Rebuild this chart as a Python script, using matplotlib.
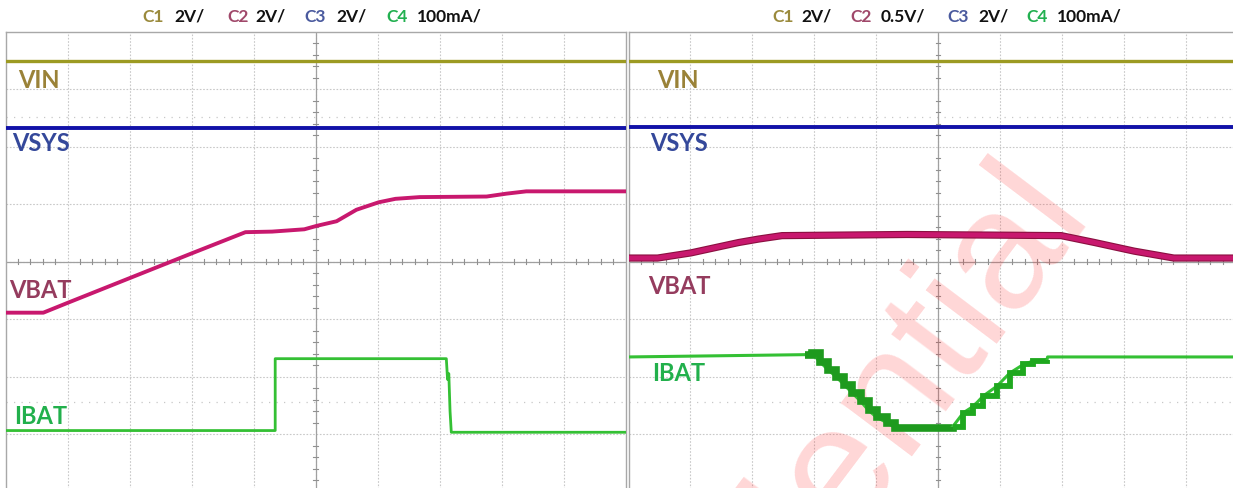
#!/usr/bin/env python3
"""
Oszilloskop-Aufnahmen: VIN, VSYS, VBAT, IBAT (zwei Messungen nebeneinander).
"""
import matplotlib
matplotlib.use('Agg')
import matplotlib.pyplot as plt

plt.rcParams['font.family'] = ['Lato', 'DejaVu Sans']

# Zeitachse und Werte in Skalenteilen (10 x 8 Raster, Mitte = 0)
# --- linke Aufnahme ---
L_VIN = 3.48
L_VSYS = 2.33
L_VBAT_T = [0, 0.61, 1.0, 2.0, 3.0, 3.87, 4.3, 4.82, 5.02, 5.34, 5.66, 6.02, 6.29, 6.68, 7.76, 8.08, 8.40, 10]
L_VBAT_V = [-0.89, -0.89, -0.72, -0.29, 0.14, 0.51, 0.52, 0.56, 0.62, 0.70, 0.90, 1.03, 1.09, 1.12, 1.13, 1.18, 1.22, 1.22]
L_IBAT_T = [0, 4.35, 4.35, 7.11, 7.13, 7.15, 7.17, 7.19, 10]
L_IBAT_V = [-2.94, -2.94, -1.69, -1.69, -2.05, -1.95, -2.6, -2.97, -2.97]

# --- rechte Aufnahme ---
R_VIN = 3.48
R_VSYS = 2.34
R_VBAT_T = [0, 0.47, 1.01, 1.78, 2.10, 2.48, 4.5, 6.99, 7.53, 8.17, 8.81, 10]
R_VBAT_V = [0.06, 0.06, 0.15, 0.33, 0.39, 0.45, 0.47, 0.45, 0.33, 0.18, 0.06, 0.06]
R_IBAT_T = [0, 2.85, 2.96, 3.09, 3.22, 3.35, 3.48, 3.61, 3.75, 3.88, 4.01, 4.17, 4.31,
            5.24, 5.41, 5.57, 5.73, 5.95, 6.16, 6.38, 6.54, 6.76, 6.77, 10]
R_IBAT_V = [-1.66, -1.62, -1.59, -1.74, -1.88, -2.00, -2.14, -2.28, -2.43, -2.59, -2.71, -2.80, -2.89,
            -2.87, -2.63, -2.52, -2.34, -2.17, -1.94, -1.79, -1.73, -1.72, -1.66, -1.66]

L_HEADER = [('C1', '2V/'), ('C2', '2V/'), ('C3', '2V/'), ('C4', '100mA/')]
R_HEADER = [('C1', '2V/'), ('C2', '0.5V/'), ('C3', '2V/'), ('C4', '100mA/')]
L_HEADER_X = [142, 174, 227, 255, 304, 336, 386, 417]
R_HEADER_X = [772, 801, 850, 881, 947, 978, 1026, 1057]

CH_COLORS = ['#9a8a3c', '#a0486a', '#4a5a9e', '#22b050']
LABEL_COLORS = {'VIN': '#9a8238', 'VSYS': '#34489a', 'VBAT': '#953c5e', 'IBAT': '#22b04c'}
C_VIN = '#9c9a22'
C_VSYS = '#1212a8'
C_VBAT = '#c8186e'
C_IBAT = '#34c034'

W, H = 1233, 489
fig = plt.figure(figsize=(W / 100, H / 100), dpi=100)


def setup_scope_axes(left_px, width_px):
    ax = fig.add_axes([left_px / W, 1 - 492.5 / H, width_px / W, 460 / H])
    ax.set_xlim(0, 10)
    ax.set_ylim(-4, 4)
    ax.set_xticks([])
    ax.set_yticks([])
    for s in ax.spines.values():
        s.set_color('#a8a8a8')
        s.set_linewidth(1.0)
    # Raster
    for i in range(1, 10):
        ax.axvline(i, color='#c8c8c8', lw=0.8, ls=(0, (1.5, 1.5)), zorder=0)
    for j in range(-3, 4):
        ax.axhline(j, color='#c8c8c8', lw=0.8, ls=(0, (1.5, 1.5)), zorder=0)
    # Mittellinien mit Teilstrichen
    ax.axvline(5, color='#a0a0a0', lw=0.9, zorder=0.5)
    ax.axhline(0, color='#a0a0a0', lw=0.9, zorder=0.5)
    for k in range(1, 50):
        t = k * 0.2
        if k % 5:
            ax.plot([t, t], [-0.05, 0.05], color='#909090', lw=0.8, zorder=0.5)
    for k in range(-19, 20):
        v = k * 0.2
        if k % 5:
            ax.plot([4.96, 5.04], [v, v], color='#909090', lw=0.8, zorder=0.5)
    # Cursor-Punktreihen
    for yy in (2.52, -2.45):
        ax.axhline(yy, color='#c8c8c8', lw=0.9, ls=(0, (1, 5)), zorder=0)
    return ax


def add_labels(ax, pos):
    for name, (x, y) in pos.items():
        ax.text(x, y, name, color=LABEL_COLORS[name], fontsize=17, fontweight='bold',
                ha='left', va='center', zorder=5)


def add_header(tokens, xs):
    k = 0
    for i, (ch, val) in enumerate(tokens):
        fig.text(xs[k] / W, 1 - 17 / H, ch, color=CH_COLORS[i], fontsize=12.5,
                 fontweight='bold', ha='left', va='center')
        fig.text(xs[k + 1] / W, 1 - 17 / H, val, color='#111111', fontsize=12.5,
                 fontweight='bold', ha='left', va='center')
        k += 2


# linke Aufnahme
axl = setup_scope_axes(5.5, 620)
axl.axhline(L_VIN, color=C_VIN, lw=2.4, zorder=3)
axl.axhline(L_VSYS, color=C_VSYS, lw=2.8, zorder=3)
axl.plot(L_VBAT_T, L_VBAT_V, color=C_VBAT, lw=2.8, zorder=3)
axl.plot(L_IBAT_T, L_IBAT_V, color=C_IBAT, lw=2.0, zorder=3)
add_labels(axl, {'VIN': (0.2, 3.17), 'VSYS': (0.1, 2.07), 'VBAT': (0.06, -0.49), 'IBAT': (0.14, -2.68)})

# rechte Aufnahme
axr = setup_scope_axes(628.5, 619)
axr.axhline(R_VIN, color=C_VIN, lw=2.4, zorder=3)
axr.axhline(R_VSYS, color=C_VSYS, lw=2.8, zorder=3)
axr.plot(R_VBAT_T, R_VBAT_V, color='#8a1040', lw=5.2, zorder=3)
axr.plot(R_VBAT_T, R_VBAT_V, color=C_VBAT, lw=3.6, zorder=3)
axr.plot(R_IBAT_T, R_IBAT_V, color=C_IBAT, lw=2.2, zorder=3)
axr.plot(R_IBAT_T[1:14], R_IBAT_V[1:14], color='#1e9a1e', lw=5.5, drawstyle='steps-post',
         solid_joinstyle='miter', solid_capstyle='butt', zorder=3)
axr.plot(R_IBAT_T[13:22], R_IBAT_V[13:22], color='#1fa81f', lw=4.2, drawstyle='steps-post',
         solid_joinstyle='miter', solid_capstyle='butt', zorder=3)
add_labels(axr, {'VIN': (0.46, 3.17), 'VSYS': (0.35, 2.07), 'VBAT': (0.32, -0.42), 'IBAT': (0.38, -1.93)})

# Wasserzeichen
axr.text(1090 / W, 1 - 210 / H, 'Confidential', transform=fig.transFigure,
         fontsize=122, family='Liberation Sans', color='#ff2020', alpha=0.18,
         rotation=53, rotation_mode='anchor', ha='right', va='baseline', zorder=1, clip_on=False)

add_header(L_HEADER, L_HEADER_X)
add_header(R_HEADER, R_HEADER_X)

fig.savefig('out.png', dpi=100)
